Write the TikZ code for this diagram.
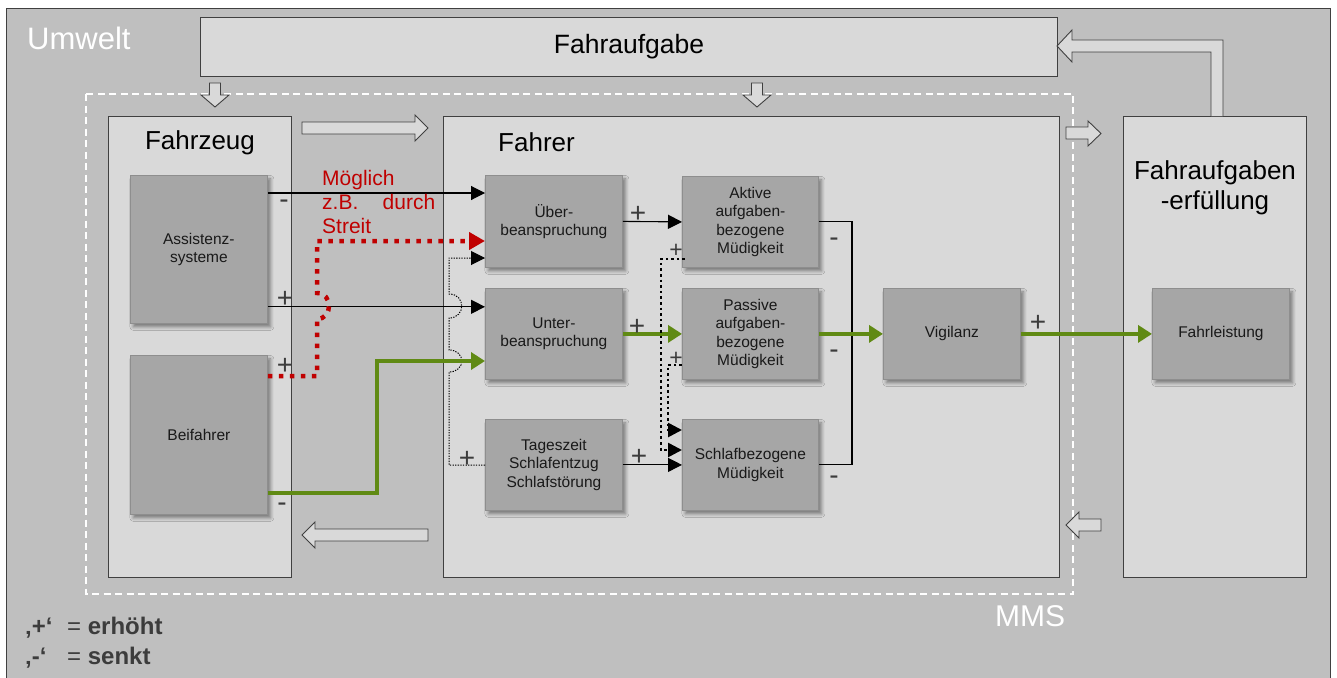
\documentclass[tikz,border=0pt]{standalone}
\usepackage{fontspec}
\setmainfont{Liberation Sans}
\usetikzlibrary{arrows.meta,shadows.blur}

\definecolor{envfill}{HTML}{BFBFBF}
\definecolor{boxfill}{HTML}{D9D9D9}
\definecolor{cellfill}{HTML}{A6A6A6}
\definecolor{celledge}{HTML}{8E8E8E}
\definecolor{edgegray}{HTML}{404040}
\definecolor{signgray}{HTML}{3C3C3C}
\definecolor{leafgreen}{RGB}{96,138,20}
\definecolor{alertred}{HTML}{C00000}

\begin{document}
\begin{tikzpicture}[x=1pt,y=-1pt,
  bigbox/.style={draw=edgegray, fill=boxfill, line width=1.1pt, anchor=north west, inner sep=0pt},
  cell/.style={fill=cellfill, draw=celledge, line width=0.8pt, anchor=north west, inner sep=0pt,
    align=center, text=black!90, font=\fontsize{15.5}{18.3}\selectfont,
    blur shadow={shadow xshift=3pt, shadow yshift=-3.5pt, shadow blur radius=3.5pt, shadow opacity=45}},
  conn/.style={line width=1.1pt, black, -{Triangle[length=14pt,width=14pt]}},
  posflow/.style={line width=4.5pt, leafgreen, -{Triangle[length=14pt,width=17pt]}},
  redflow/.style={line width=4.5pt, alertred, dash pattern=on 4.5pt off 6.5pt,
    -{Triangle[length=16pt,width=17pt]}},
  thickdot/.style={line width=2.6pt, black, dash pattern=on 2.6pt off 3pt,
    -{Triangle[length=14pt,width=14pt]}},
  thindot/.style={line width=1pt, black, dash pattern=on 1.3pt off 1.3pt,
    -{Triangle[length=14pt,width=14pt]}},
  blockarrow/.style={draw=edgegray, fill=boxfill, line width=0.9pt, line join=miter},
  sign/.style={text=signgray, inner sep=0pt, font=\fontsize{28}{28}\selectfont},
  smallsign/.style={text=signgray, inner sep=0pt, font=\fontsize{23}{23}\selectfont},
  legend/.style={text=signgray, inner sep=0pt, font=\fontsize{24}{24}\selectfont},
  title/.style={inner sep=0pt, text=black, font=\fontsize{26}{30}\selectfont}
]
\useasboundingbox (0,0) rectangle (1337,677);
\fill[white] (0,0) rectangle (1337,677);

% environment frame
\fill[envfill] (6,8) rectangle (1330,678);
\draw[edgegray, line width=0.9pt] (6,678) -- (6,8) -- (1330,8) -- (1330,678);
\node[anchor=base west, inner sep=0pt, text=white, font=\fontsize{31}{31}\selectfont] (umwelt) at (27,49) {Umwelt};

% driving task
\node[bigbox, minimum width=857pt, minimum height=59pt, font=\fontsize{26.5}{26.5}\selectfont] (aufgabe) at (200,17) {Fahraufgabe};

% human-machine system boundary
\draw[white, line width=1.5pt, dash pattern=on 7pt off 4.5pt] (86,94) rectangle (1073,594);
\node[anchor=base west, inner sep=0pt, text=white, font=\fontsize{30}{30}\selectfont] (mms) at (995,626) {MMS};

% main blocks
\node[bigbox, minimum width=183pt, minimum height=461pt] (fahrzeug) at (108,116) {};
\node[bigbox, minimum width=616pt, minimum height=461pt] (fahrer) at (443,116) {};
\node[bigbox, minimum width=183pt, minimum height=461pt] (erfuellung) at (1123,116) {};

\node[title, anchor=base] (tfahrzeug) at (200,149) {Fahrzeug};
\node[title, anchor=base west] (tfahrer) at (498,151) {Fahrer};
\node[title, align=center] (terfuellung) at (1215,188) {Fahraufgaben\\-erfüllung};

% inner cells
\node[cell, minimum width=137pt, minimum height=148pt] (assist) at (130,175) {Assistenz-\\systeme};
\node[cell, minimum width=137pt, minimum height=159pt] (beif) at (130,355) {Beifahrer};
\node[cell, minimum width=137pt, minimum height=92pt] (ueber) at (485,175) {Über-\\beanspruchung};
\node[cell, minimum width=137pt, minimum height=91pt] (unter) at (485,288) {Unter-\\beanspruchung};
\node[cell, minimum width=137pt, minimum height=91pt] (tages) at (485,419) {Tageszeit\\Schlafentzug\\Schlafstörung};
\node[cell, minimum width=136pt, minimum height=91pt] (aktiv) at (682,176) {Aktive\\aufgaben-\\bezogene\\Müdigkeit};
\node[cell, minimum width=136pt, minimum height=91pt] (passiv) at (682,288) {Passive\\aufgaben-\\bezogene\\Müdigkeit};
\node[cell, minimum width=136pt, minimum height=91pt] (schlaf) at (682,419) {Schlafbezogene\\Müdigkeit};
\node[cell, minimum width=137pt, minimum height=91pt] (vigil) at (883,288) {Vigilanz};
\node[cell, minimum width=137pt, minimum height=91pt] (fahrl) at (1152,288) {Fahrleistung};

% block arrows between the main blocks
\draw[blockarrow] (209.5,83) -- (220.5,83) -- (220.5,95) -- (229,95) -- (215,107) -- (201,95) -- (209.5,95) -- cycle;
\draw[blockarrow] (751.5,83) -- (762.5,83) -- (762.5,95) -- (771,95) -- (757,107) -- (743,95) -- (751.5,95) -- cycle;
\draw[blockarrow] (302,122) -- (415,122) -- (415,115) -- (428,128) -- (415,141) -- (415,134) -- (302,134) -- cycle;
\draw[blockarrow] (1066,127) -- (1088,127) -- (1088,121) -- (1101,133.5) -- (1088,146) -- (1088,139) -- (1066,139) -- cycle;
\draw[blockarrow] (428,529) -- (315,529) -- (315,522) -- (302,535) -- (315,548) -- (315,541) -- (428,541) -- cycle;
\draw[blockarrow] (1101,519) -- (1079,519) -- (1079,512) -- (1066,525) -- (1079,538) -- (1079,531) -- (1101,531) -- cycle;
\draw[blockarrow] (1211,116) -- (1211,52) -- (1072,52) -- (1072,62) -- (1057,46) -- (1072,30) -- (1072,40) -- (1223,40) -- (1223,116);

% connector anchor points
\coordinate (as1) at ([yshift=-18pt]assist.north east);
\coordinate (as2) at ([yshift=17pt]assist.south east);
\coordinate (bf1) at ([yshift=22pt]beif.south east);
\coordinate (gbend) at (377,361);
\coordinate (rd0) at ([yshift=-21pt]beif.north east);
\coordinate (rtop) at (317,241);
\coordinate (tdy) at (449,465);
\coordinate (ttop) at (449,258);
\coordinate (k1) at ([xshift=3pt,yshift=9pt]aktiv.south west);
\coordinate (k1b) at (661,450);
\coordinate (k2) at ([yshift=15pt]passiv.south west);
\coordinate (k2b) at (668,430);
\coordinate (brk) at (852,334);

% vehicle and passenger influences
\draw[conn] (as1) -- (ueber.west |- as1);
\draw[conn] (as2) -- (unter.west |- as2);
\draw[thindot] (tages.west |- tdy) -- (tdy) -- (449,372)
  .. controls (466,372) and (466,350) .. (449,350) -- (449,318)
  .. controls (466,318) and (466,294) .. (449,294) -- (ttop) -- (ueber.west |- ttop);
\draw[redflow] (rd0) -- (317,376) -- (317,319)
  .. controls (333,319) and (333,293) .. (317,293) -- (rtop) -- (ueber.west |- rtop);
\draw[posflow] (bf1) -| (gbend) -- (unter.west |- gbend);

% driver internal chain
\draw[conn] (ueber.east) -- (aktiv.west);
\draw[posflow] (unter.east) -- (passiv.west);
\draw[conn] (tages.east) -- (schlaf.west);
\draw[thickdot] (k1) -| (k1b) -- (schlaf.west |- k1b);
\draw[thickdot] (k2) -| (k2b) -- (schlaf.west |- k2b);
\draw[line width=1.1pt, black] (aktiv.east) -| (brk) |- (schlaf.east);
\draw[posflow] (passiv.east) -- (vigil.west);
\draw[posflow] (vigil.east) -- (fahrl.west);

% red remark (base anchor sits on the last line)
\node[anchor=base west, inner sep=0pt, text=alertred, align=left, font=\fontsize{21}{24}\selectfont] (remark) at (322,233)
  {Möglich\\\makebox[113pt][l]{z.B.\hfill durch}\\Streit};

% signs of the influences
\node[sign] (s1) at (284,204) {-};
\node[sign] (s2) at (285,299) {+};
\node[sign] (s3) at (285,366) {+};
\node[sign] (s4) at (282,507) {-};
\node[sign] (s5) at (638,214) {+};
\node[sign] (s6) at (637,327) {+};
\node[sign] (s7) at (639,457) {+};
\node[sign] (s8) at (467,459) {+};
\node[smallsign] (s9) at (676,251) {+};
\node[smallsign] (s10) at (676,359) {+};
\node[sign] (s11) at (834,242) {-};
\node[sign] (s12) at (834,354) {-};
\node[sign] (s13) at (834,480) {-};
\node[sign] (s14) at (1038,323) {+};

% legend
\node[legend, anchor=base west] (leg1) at (25,634) {\makebox[42pt][l]{\bfseries ‚+‘}= {\bfseries erhöht}};
\node[legend, anchor=base west] (leg2) at (25,664) {\makebox[42pt][l]{\bfseries ‚-‘}= {\bfseries senkt}};
\end{tikzpicture}
\end{document}
